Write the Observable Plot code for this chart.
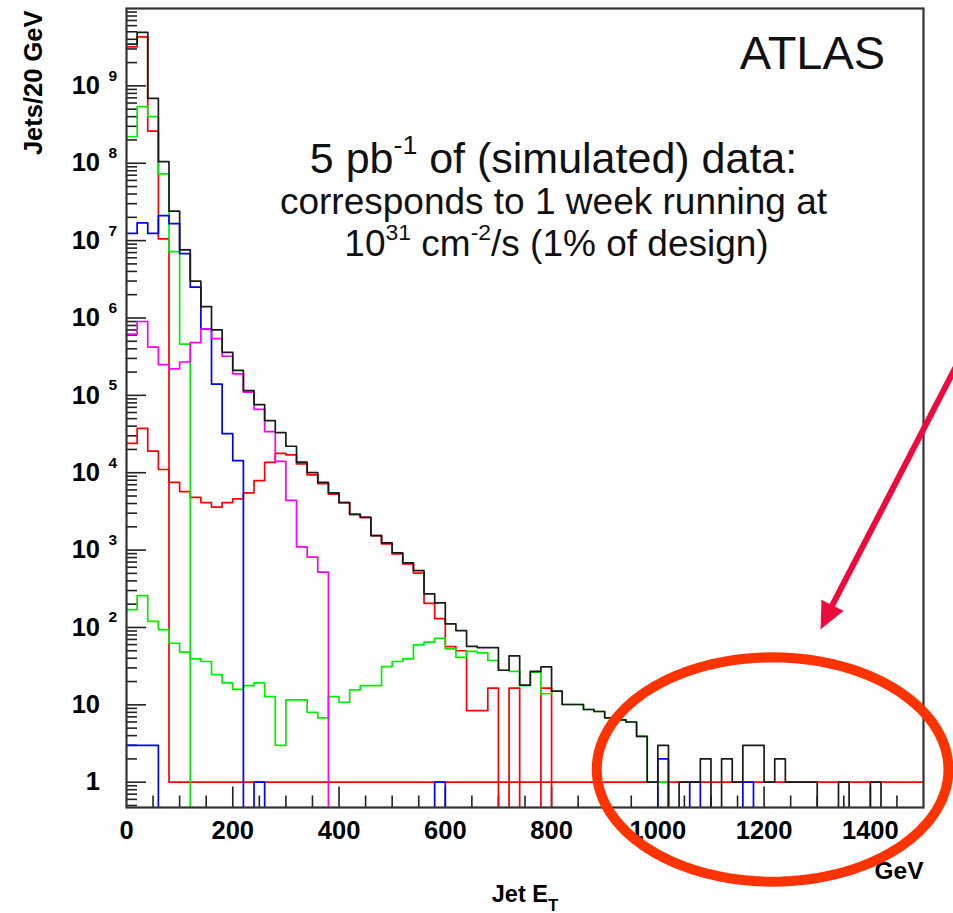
<!DOCTYPE html>
<html>
<head>
<meta charset="utf-8">
<script src="https://cdn.jsdelivr.net/npm/d3@7"></script>
<script src="https://cdn.jsdelivr.net/npm/@observablehq/plot@0.6"></script>
<style>
  html, body { margin: 0; padding: 0; background: #fff; }
  #chart svg { display: block; }
</style>
</head>
<body>
<div id="chart"></div>
<script>
// ---------- data (Jets / 20 GeV, bins of 20 GeV from 0 to 1500 GeV) ----------
const binEdges = d3.range(0, 1501, 20);

const totalCounts = [
  3.47e9, 4.9e9, 6.9e8, 1.05e8, 2.4e7, 7.6e6, 3.0e6, 1.4e6, 7.0e5, 3.6e5,
  2.1e5, 1.15e5, 7.6e4, 4.7e4, 3.3e4, 2.2e4, 1.37e4, 1.0e4, 7.5e3, 5.5e3,
  4.1e3, 2.9e3, 2.65e3, 1.54e3, 1.24e3, 920, 684, 543, 272, 208,
  111, 91, 57, 55, 55, 28, 43, 18, 27, 31,
  15, 10.1, 10.1, 8.7, 8.2, 6.8, 6.4, 6.0, 3.9, 1,
  3, 0, 1, 1, 2, 0, 2, 1, 3, 3,
  1, 2, 1, 1, 1, 0, 0, 1, 0, 0,
  1, 0, 0, 0, 0
];
const redSliceA = [
  3.2e9, 4.3e9, 2.6e8, 1.05e7, 1, 1, 1, 1, 1, 1,
  1, 1, 1, 1, 1, 1, 1, 1, 1, 1,
  1, 1, 1, 1, 1, 1, 1, 1, 1, 1,
  1, 1, 1, 1, 1, 1, 1, 1, 1, 1,
  1, 1, 1, 1, 1, 1, 1, 1, 1, 1,
  1, 1, 1, 1, 1, 1, 1, 1, 1, 1,
  1, 1, 1, 1, 1, 1, 1, 1, 1, 1,
  1, 1, 1, 1, 1
];
const greenSliceA = [
  2.2e8, 5.4e8, 4.0e8, 7.3e7, 7.2e6, 4.6e5, 0, 0, 0, 0,
  0, 0, 0, 0, 0, 0, 0, 0, 0, 0,
  0, 0, 0, 0, 0, 0, 0, 0, 0, 0,
  0, 0, 0, 0, 0, 0, 0, 0, 0, 0,
  0, 0, 0, 0, 0, 0, 0, 0, 0, 0,
  0, 0, 0, 0, 0, 0, 0, 0, 0, 0,
  0, 0, 0, 0, 0, 0, 0, 0, 0, 0,
  0, 0, 0, 0, 0
];
const blueSliceA = [
  1.24e7, 1.7e7, 1.24e7, 2.1e7, 1.66e7, 6.8e6, 2.5e6, 7.2e5, 1.4e5, 3.2e4,
  1.43e4, 0, 0, 0, 0, 0, 0, 0, 0, 0,
  0, 0, 0, 0, 0, 0, 0, 0, 0, 0,
  0, 0, 0, 0, 0, 0, 0, 0, 0, 0,
  0, 0, 0, 0, 0, 0, 0, 0, 0, 0,
  0, 0, 0, 0, 0, 0, 0, 0, 0, 0,
  0, 0, 0, 0, 0, 0, 0, 0, 0, 0,
  0, 0, 0, 0, 0
];
const magentaSlice = [
  6.2e5, 9.0e5, 4.2e5, 2.5e5, 2.2e5, 2.7e5, 4.8e5, 7.2e5, 5.4e5, 3.2e5,
  1.9e5, 1.1e5, 6.6e4, 3.4e4, 1.4e4, 4.4e3, 1.1e3, 810, 520, 0,
  0, 0, 0, 0, 0, 0, 0, 0, 0, 0,
  0, 0, 0, 0, 0, 0, 0, 0, 0, 0,
  0, 0, 0, 0, 0, 0, 0, 0, 0, 0,
  0, 0, 0, 0, 0, 0, 0, 0, 0, 0,
  0, 0, 0, 0, 0, 0, 0, 0, 0, 0,
  0, 0, 0, 0, 0
];
const redSliceB = [
  2.4e4, 3.75e4, 1.9e4, 1.1e4, 7.5e3, 5.7e3, 4.8e3, 4.1e3, 3.6e3, 4.1e3,
  4.6e3, 5.5e3, 7.9e3, 1.36e4, 1.78e4, 1.7e4, 1.3e4, 9.4e3, 7.2e3, 5.3e3,
  4.1e3, 2.9e3, 2.65e3, 1.54e3, 1.2e3, 890, 665, 505, 205, 130,
  56.6, 50, 8.4, 8.4, 16.4, 0, 16.4, 0, 0, 16.4,
  0, 0, 0, 0, 0, 0, 0, 0, 0, 0,
  0, 0, 0, 0, 0, 0, 0, 0, 0, 0,
  0, 0, 0, 0, 0, 0, 0, 0, 0, 0,
  0, 0, 0, 0, 0
];
const greenSliceB = [
  170, 258, 120, 94, 62.5, 48, 39.3, 36.3, 24.6, 19.2,
  15.8, 17.7, 19.2, 12.8, 3.0, 11.6, 11.6, 8.0, 6.8, 12.8,
  10.8, 15.6, 17.7, 17.7, 31.2, 36.3, 39.3, 59.5, 64.5, 72.5,
  52.8, 41, 49, 47, 37.4, 28, 27, 17.7, 26.4, 13.9,
  15, 10.1, 10.1, 8.7, 8.2, 6.8, 6.4, 6.0, 3.9, 1,
  1, 0, 0, 0, 0, 0, 0, 0, 0, 0,
  0, 0, 0, 0, 0, 0, 0, 0, 0, 0,
  0, 0, 0, 0, 0
];
const blueSliceB = [
  3, 3, 3, 0, 0, 0, 0, 0, 0, 0,
  0, 0, 1, 0, 0, 0, 0, 0, 0, 0,
  0, 0, 0, 0, 0, 0, 0, 0, 0, 1,
  0, 0, 0, 0, 0, 0, 0, 0, 0, 0,
  0, 0, 0, 0, 0, 0, 0, 0, 0, 0,
  2, 0, 0, 1, 0, 0, 0, 0, 1, 0,
  0, 0, 0, 0, 0, 0, 0, 0, 0, 0,
  0, 0, 0, 0, 0
];

// axis tick labels
const xTickLabels = [0, 200, 400, 600, 800, 1000, 1200, 1400];
const yTickValues = [1, 10, 1e2, 1e3, 1e4, 1e5, 1e6, 1e7, 1e8, 1e9];
const yTickBase = ["1", "10", "10", "10", "10", "10", "10", "10", "10", "10"];
const yTickExp = ["", "", "2", "3", "4", "5", "6", "7", "8", "9"];

// texts
const atlasLabel = "ATLAS";
const noteLines = [
  "5 pb^{-1} of (simulated) data:",
  "corresponds to 1 week running at",
  "10^{31} cm^{-2}/s (1% of design)"
];

// ---------- layout helpers ----------
const yMin = 0.471, yMax = 1e10;
const W = 953, H = 913;
const mL = 126, mR = 30, mT = 8, mB = 106;
const innerW = W - mL - mR, innerH = H - mT - mB;

// empty bins are drawn below the frame bottom and clipped away (as ROOT does)
function steps(vals) {
  const pts = [];
  vals.forEach((v, i) => {
    const y = v > 0 ? v : yMin / 3;
    pts.push({x: binEdges[i], y}, {x: binEdges[i + 1], y});
  });
  return pts;
}

const yMinorTicks = [];
for (let d = -1; d <= 9; d++) for (let k = 2; k <= 9; k++) {
  const v = k * Math.pow(10, d);
  if (v > yMin && v < yMax) yMinorTicks.push(v);
}
const xMinorTicks = d3.range(50, 1500, 50).filter(v => v % 200 !== 0);
const xMajorTicks = d3.range(200, 1500, 200);

// annotation geometry (data units: GeV, Jets)
const ringCenter = {x: 1216, y: 1.46}, ringRadiusX = 331, ringRadiusDecades = 1.45;
const ring = d3.range(0, 361, 3).map(a => {
  const t = a * Math.PI / 180;
  return {x: ringCenter.x + ringRadiusX * Math.cos(t), y: ringCenter.y * Math.pow(10, ringRadiusDecades * Math.sin(t))};
});
const arrowShaft = [{x1: 1570, y1: 3.1e5, x2: 1328, y2: 191}];
const arrowHead = [{x: 1306.3, y: 95.9}, {x: 1348.2, y: 163}, {x: 1308, y: 224}];

const series = [
  {vals: redSliceA, color: "#ff0000"},
  {vals: redSliceB, color: "#ff0000"},
  {vals: greenSliceA, color: "#00ee00"},
  {vals: greenSliceB, color: "#00ee00"},
  {vals: blueSliceA, color: "#0000ff"},
  {vals: blueSliceB, color: "#0000ff"},
  {vals: magentaSlice, color: "#ff00ff"},
  {vals: totalCounts, color: "#1a1a1a"}
];

const boldFont = {fontWeight: "bold", fontFamily: "Liberation Sans, Arial, Helvetica, sans-serif"};

const chart = Plot.plot({
  width: W, height: H,
  marginLeft: mL, marginRight: mR, marginTop: mT, marginBottom: mB,
  style: {fontFamily: "Liberation Sans, Arial, Helvetica, sans-serif", background: "#fff", overflow: "visible"},
  x: {domain: [0, 1500], axis: null},
  y: {type: "log", domain: [yMin, yMax], axis: null},
  marks: [
    // ticks (inside the frame)
    Plot.ruleY(yMinorTicks, {y: d => d, insetRight: innerW - 11, stroke: "#222", strokeWidth: 1.6}),
    Plot.ruleY(yTickValues, {y: d => d, insetRight: innerW - 20, stroke: "#222", strokeWidth: 1.6}),
    Plot.ruleX(xMinorTicks, {x: d => d, insetTop: innerH - 11.5, stroke: "#222", strokeWidth: 1.6}),
    Plot.ruleX(xMajorTicks, {x: d => d, insetTop: innerH - 20.5, stroke: "#222", strokeWidth: 1.6}),
    // histograms
    ...series.map(s => Plot.line(steps(s.vals), {x: "x", y: "y", stroke: s.color, strokeWidth: 1.7, curve: "linear", clip: true})),
    Plot.frame({stroke: "#333", strokeWidth: 2.2}),
    // tick labels
    Plot.text(xTickLabels, {x: d => d, y: yMin, text: d => String(d), dy: 23, fontSize: 25.5, ...boldFont}),
    Plot.text(yTickValues, {x: 0, y: d => d, text: (d, i) => yTickBase[i], textAnchor: "end", dx: -26.5, fontSize: 25.5, ...boldFont}),
    Plot.text(yTickValues, {x: 0, y: d => d, text: (d, i) => yTickExp[i], textAnchor: "start", dx: -18, dy: -10, fontSize: 15.5, ...boldFont}),
    // axis titles
    Plot.text(["Jets/20 GeV"], {frameAnchor: "top-left", dx: -103, dy: 2, rotate: -90, textAnchor: "end", fontSize: 25.5, ...boldFont}),
    Plot.text(["Jet E_{T}"], {frameAnchor: "bottom", dx: 0, dy: 94, textAnchor: "middle", lineAnchor: "bottom", fontSize: 23.5, ...boldFont}),
    Plot.text(["GeV"], {frameAnchor: "bottom-right", dy: 71, textAnchor: "end", lineAnchor: "bottom", fontSize: 24.5, ...boldFont}),
    // in-frame annotations
    Plot.text([atlasLabel], {frameAnchor: "top-left", dx: 686, dy: 60, textAnchor: "middle", lineAnchor: "bottom", fontSize: 47, fill: "#111"}),
    Plot.text([noteLines[0]], {frameAnchor: "top-left", dx: 427, dy: 164, textAnchor: "middle", lineAnchor: "bottom", fontSize: 43, fill: "#111"}),
    Plot.text([noteLines[1]], {frameAnchor: "top-left", dx: 427, dy: 205, textAnchor: "middle", lineAnchor: "bottom", fontSize: 37, fill: "#111"}),
    Plot.text([noteLines[2]], {frameAnchor: "top-left", dx: 430, dy: 247, textAnchor: "middle", lineAnchor: "bottom", fontSize: 37, fill: "#111"}),
    // highlight ellipse and arrow
    Plot.line(ring, {x: "x", y: "y", stroke: "#ff3300", strokeWidth: 10}),
    Plot.link(arrowShaft, {x1: "x1", y1: "y1", x2: "x2", y2: "y2", stroke: "#ee0a3c", strokeWidth: 6}),
    Plot.line(arrowHead, {x: "x", y: "y", fill: "#ee0a3c", stroke: "#ee0a3c", strokeWidth: 1})
  ]
});

document.getElementById("chart").appendChild(chart);

// render ^{...} and _{...} as raised / lowered tspans
const NS = "http://www.w3.org/2000/svg";
for (const t of chart.querySelectorAll("text")) {
  const s = t.textContent;
  if (!/[\^_]\{/.test(s)) continue;
  const fs = parseFloat(getComputedStyle(t).fontSize) || 16;
  while (t.firstChild) t.removeChild(t.firstChild);
  let shift = 0;
  for (const p of s.split(/([\^_]\{[^}]*\})/)) {
    if (!p) continue;
    const ts = document.createElementNS(NS, "tspan");
    const m = p.match(/^([\^_])\{([^}]*)\}$/);
    let target = 0;
    if (m) {
      const sup = m[1] === "^";
      target = sup ? -0.42 * fs : 0.4 * fs;
      ts.textContent = m[2];
      ts.setAttribute("font-size", (sup ? 0.62 : 0.72) * fs);
    } else {
      ts.textContent = p;
    }
    const dy = target - shift;
    if (dy) ts.setAttribute("dy", dy);
    shift = target;
    t.appendChild(ts);
  }
}
</script>
</body>
</html>
